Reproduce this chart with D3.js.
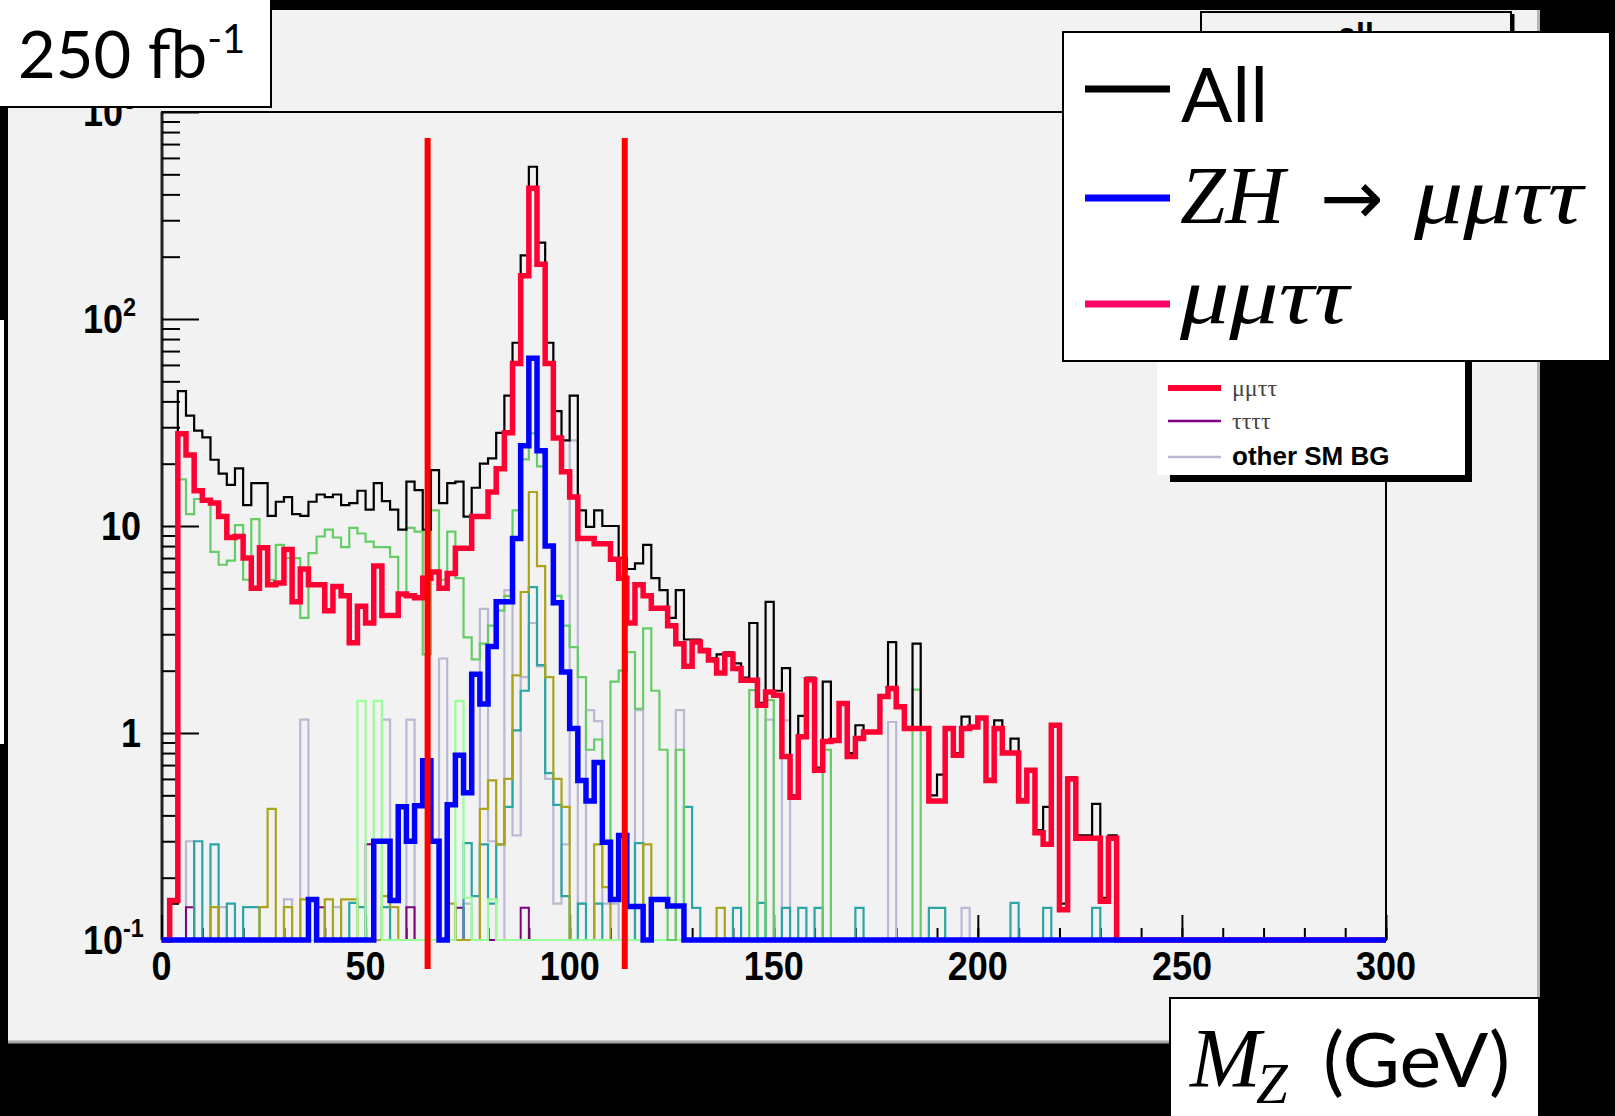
<!DOCTYPE html>
<html lang="en">
<head>
<meta charset="UTF-8"/>
<title>M_Z distribution, 250 fb-1</title>
<script src="https://d3js.org/d3.v7.min.js"></script>
<style>
  body { margin: 0; background: #000; }
  svg { display: block; }
  .tick-label { font-family: "Liberation Sans", Arial, sans-serif; font-weight: bold; font-size: 40px; fill: #000; }
  .big { font-family: Lato, "Open Sans", sans-serif; fill: #000; }
  .math { font-family: "Liberation Serif", "DejaVu Serif", serif; font-style: italic; fill: #000; }
</style>
</head>
<body>
<svg id="chart" width="1615" height="1116"></svg>
<script>
// histogram bins are 2 GeV wide, 0..300 GeV; dense arrays start at the 0-2 GeV bin
const binWidth = 2;
const nBins = 150;

// "All" (black)
const allEvents = [
  0, 0.15, 44.8, 34.1, 28.9, 26.8, 20.9, 17.9, 15.8, 19.0,
  12.6, 16.1, 16.1, 11.2, 13.1, 13.8, 11.4, 11.2, 13.1, 14.2,
  13.8, 14.2, 12.6, 12.9, 14.8, 12.0, 16.1, 13.2, 12.0, 9.6,
  16.4, 14.9, 9.6, 18.6, 12.9, 16.1, 16.4, 11.1, 15.3, 20.0,
  21.2, 28.2, 42.6, 76.8, 203, 544, 234, 76.8, 35.9, 25.9,
  42.6, 11.9, 9.9, 11.9, 10.0, 10.0, 7.0, 6.2, 6.6, 8.1,
  5.6, 4.9, 3.6, 4.9, 2.83, 2.83, 2.55, 2.3, 2.4, 2.45,
  2.17, 1.85, 3.4, 1.4, 4.3, 1.6, 2.06, 0.5, 1.21, 1.85,
  0.68, 1.77, 0.93, 1.4, 0.8, 1.09, 1.02, 1.02, 1.52, 2.75,
  1.36, 1.06, 2.7, 1.06, 0.5, 0.63, 1.06, 0.8, 1.2, 1.07,
  1.19, 0.6, 1.15, 0.81, 0.94, 0.48, 0.67, 0.34, 0.44, 1.1,
  0.15, 0.61, 0.32, 0.32, 0.455, 0.16, 0.32
];

// mumutautau (thick red)
const mumutautau = [
  0, 0.155, 27.9, 22.0, 14.8, 13.3, 12.9, 11.1, 8.8, 8.9,
  7.0, 5.0, 7.85, 5.2, 5.3, 7.7, 4.3, 6.2, 5.2, 5.2,
  3.9, 5.1, 4.6, 2.73, 4.1, 3.4, 6.4, 3.7, 3.7, 4.7,
  4.6, 4.5, 5.6, 6.0, 5.0, 5.9, 7.8, 7.8, 11.1, 11.1,
  14.6, 18.9, 28.2, 61, 162, 428, 184, 61, 26.6, 18.3,
  13.8, 8.7, 8.7, 8.2, 8.2, 6.9, 5.6, 3.4, 5.2, 4.6,
  4.0, 4.0, 3.3, 2.7, 2.1, 2.75, 2.5, 2.25, 1.95, 2.4,
  2.05, 1.8, 1.8, 1.36, 1.58, 1.52, 0.77, 0.49, 0.96, 1.81,
  0.66, 0.91, 0.92, 1.39, 0.77, 0.94, 1.01, 1.01, 1.5, 1.64,
  1.34, 1.05, 1.05, 1.05, 0.47, 0.47, 1.05, 0.78, 1.05, 1.07,
  1.18, 0.59, 1.05, 0.8, 0.8, 0.47, 0.66, 0.33, 0.29, 1.09,
  0.14, 0.6, 0.31, 0.31, 0.31, 0.154, 0.31
];

// ZH -> mumutautau signal (thick blue)
const zhSignal = [
  0, 0, 0, 0, 0, 0, 0, 0, 0, 0,
  0, 0, 0, 0, 0, 0, 0, 0, 0.157, 0,
  0, 0, 0, 0, 0, 0, 0.30, 0.30, 0.155, 0.44,
  0.30, 0.445, 0.735, 0.30, 0, 0.45, 0.78, 0.515, 1.92, 1.38,
  2.62, 4.3, 4.3, 8.7, 24.4, 64.7, 23.1, 8.0, 4.26, 1.97,
  1.05, 0.59, 0.47, 0.72, 0.297, 0.157, 0.32, 0.145, 0.145, 0,
  0.157, 0.157, 0.146, 0.146
];

// green background
const greenBG = [
  0, 0.15, 16.8, 11.4, 13.5, 13.5, 7.5, 6.5, 6.8, 10.1,
  5.5, 10.8, 8.0, 5.5, 8.1, 7.0, 7.0, 3.6, 7.4, 8.9,
  9.6, 8.8, 7.9, 9.8, 9.2, 8.4, 7.9, 7.9, 7.1, 4.7,
  9.8, 9.4, 2.4, 11.9, 5.5, 9.4, 5.6, 2.9, 2.27, 2.7,
  3.3, 3.9, 4.6, 11.9, 21, 28, 19.4, 8, 4.6, 3.3,
  2.6, 1.86, 0.83, 0.93, 0.3, 1.77, 2.0, 2.46, 1.31, 3.2,
  1.6, 0.83, 0, 0.83, 0, 0, 0, 0, 0, 0,
  0, 0, 1.61, 0, 1.44, 0, 0, 0, 0, 0,
  0, 0.83, 0, 0, 0, 0, 0, 0, 0, 0,
  0, 0, 1.62
];

// sparse series: [bin low edge in GeV, value]
const lightGreenBG = [[48, 1.43], [52, 1.43], [72, 1.43], [74, 0.16], [80, 0.157]];
const otherSM = [
  [6, 0.30], [14, 0.144], [30, 0.157], [34, 1.16], [42, 0.144], [54, 1.16], [60, 1.16],
  [68, 2.29], [74, 0.15], [78, 3.98], [80, 0.3], [84, 4.9], [86, 0.32], [88, 1.86],
  [90, 3.4], [92, 2.1], [94, 0.6], [96, 0.15], [98, 0.29], [100, 25.9], [102, 0.15],
  [104, 1.29], [106, 1.14], [108, 0.15], [110, 0.15], [116, 1.29], [126, 1.29],
  [148, 1.16], [152, 1.15], [178, 1.13], [196, 0.143]
];
const tealBG = [
  [8, 0.30], [12, 0.29], [16, 0.15], [20, 0.144], [22, 0.144], [46, 0.151], [48, 0.144],
  [54, 0.144], [74, 0.294], [76, 0.163], [78, 0.29], [80, 0.15], [82, 0.29], [84, 0.44],
  [86, 1.03], [88, 1.6], [90, 5.07], [92, 2.13], [94, 0.64], [96, 0.45], [98, 0.163],
  [102, 0.15], [106, 0.15], [116, 0.294], [128, 0.44], [130, 0.143], [140, 0.143],
  [146, 0.151], [152, 0.143], [156, 0.143], [160, 0.143], [170, 0.143], [188, 0.143],
  [190, 0.143], [208, 0.151], [216, 0.143], [228, 0.143]
];
const oliveBG = [
  [12, 0.144], [24, 0.144], [26, 0.43], [30, 0.144], [34, 0.157], [40, 0.157], [44, 0.157],
  [46, 0.157], [54, 0.163], [56, 0.144], [70, 0.15], [78, 0.43], [80, 0.59], [82, 0.29],
  [84, 0.6], [86, 1.9], [88, 4.8], [90, 14.6], [92, 6.4], [94, 1.86], [96, 0.6], [98, 0.44],
  [106, 0.29], [108, 0.18], [118, 0.29], [136, 0.143]
];
const tautautautau = [[6, 0.144], [38, 0.144], [50, 0.29], [60, 0.144], [72, 0.143], [88, 0.143]];

// mass window cuts (GeV)
const cutValues = [65.2, 113.5];

// axis ticks
const xMajorTicks = [0, 50, 100, 150, 200, 250, 300];
const xMinorTicks = d3.range(0, 301, 10);
const yMajorTicks = [0.1, 1, 10, 100, 1000];
const yTickText = [['10', '-1'], ['1', ''], ['10', ''], ['10', '2'], ['10', '3']];

const svg = d3.select('#chart');
const W = 1615, H = 1116;

svg.append('rect').attr('width', W).attr('height', H).attr('fill', '#000');
// ROOT canvas
svg.append('rect').attr('x', 8).attr('y', 10).attr('width', 1532).attr('height', 1033).attr('fill', '#f2f2f2');
svg.append('line').attr('x1', 8).attr('x2', 1540).attr('y1', 1042).attr('y2', 1042).attr('stroke', '#a8a8a8').attr('stroke-width', 3);
svg.append('line').attr('x1', 1538.5).attr('x2', 1538.5).attr('y1', 10).attr('y2', 1043).attr('stroke', '#b4b4b4').attr('stroke-width', 3);
svg.append('rect').attr('x', 0).attr('y', 320).attr('width', 4).attr('height', 424).attr('fill', '#fff');

const x = d3.scaleLinear().domain([0, 300]).range([161.5, 1386]);
const y = d3.scaleLog().domain([0.1, 1000]).range([940, 112]);

// frame
svg.append('rect').attr('x', 162).attr('y', 112).attr('width', 1224).attr('height', 828)
  .attr('fill', 'none').attr('stroke', '#000').attr('stroke-width', 2);
svg.append('line').attr('x1', 162).attr('x2', 162).attr('y1', 112).attr('y2', 940)
  .attr('stroke', '#222').attr('stroke-width', 3);

// ticks
function tickAxis(axis, tr) {
  const g = svg.append('g').attr('transform', tr).call(axis);
  g.select('.domain').remove();
  g.selectAll('line').attr('stroke', '#000').attr('stroke-width', 2);
  g.selectAll('text').remove();
  return g;
}
const yMinor = [];
[0.1, 1, 10, 100].forEach(d => d3.range(2, 10).forEach(m => yMinor.push(m * d)));
tickAxis(d3.axisRight(y).tickValues(yMajorTicks).tickSize(37), 'translate(162,0)');
tickAxis(d3.axisRight(y).tickValues(yMinor).tickSize(18), 'translate(162,0)');
tickAxis(d3.axisTop(x).tickValues(xMajorTicks).tickSize(25), 'translate(0,940)');
tickAxis(d3.axisTop(x).tickValues(xMinorTicks).tickSize(12), 'translate(0,940)');

// tick labels: powers of ten start at a fixed left edge, plain numbers are right aligned
yMajorTicks.forEach((v, i) => {
  const [base, sup] = yTickText[i];
  const t = svg.append('text').attr('class', 'tick-label')
    .attr('transform', `translate(${sup ? 83 : 141},${y(v) + 14}) scale(0.9,1)`)
    .attr('text-anchor', sup ? 'start' : 'end');
  t.append('tspan').text(base);
  if (sup) t.append('tspan').attr('dy', -17).attr('font-size', '26px').text(sup);
});
xMajorTicks.forEach(v => {
  svg.append('text').attr('class', 'tick-label')
    .attr('transform', `translate(${x(v)},980) scale(0.9,1)`)
    .attr('text-anchor', 'middle').text(v);
});

// histograms
function dense(values) {
  const a = new Array(nBins).fill(0);
  values.forEach((v, i) => { a[i] = v; });
  return a;
}
function fromPairs(pairs) {
  const a = new Array(nBins).fill(0);
  pairs.forEach(([m, v]) => { a[Math.round(m / binWidth)] = v; });
  return a;
}
const step = d3.line()
  .x(d => x(d[0]))
  .y(d => y(Math.max(d[1], 0.1)))
  .curve(d3.curveStepAfter);
function histPoints(a) {
  const pts = a.map((v, i) => [i * binWidth, v]);
  pts.push([300, a[a.length - 1]]);
  return pts;
}

const series = [
  { data: fromPairs(otherSM), color: '#b9b9d3', w: 2.2 },
  { data: fromPairs(tautautautau), color: '#800080', w: 2 },
  { data: fromPairs(tealBG), color: '#2ba6a6', w: 2.2 },
  { data: fromPairs(oliveBG), color: '#aaa41c', w: 2.2 },
  { data: fromPairs(lightGreenBG), color: '#99ff99', w: 2.2 },
  { data: dense(greenBG), color: '#66cc66', w: 2.2 },
  { data: dense(allEvents), color: '#000', w: 2.2 },
  { data: dense(mumutautau), color: '#ff0033', w: 5.5 },
  { data: dense(zhSignal), color: '#0000ff', w: 5.5 }
];
svg.append('g').selectAll('path').data(series).join('path')
  .attr('d', s => step(histPoints(s.data)))
  .attr('fill', 'none')
  .attr('stroke', s => s.color)
  .attr('stroke-width', s => s.w);

// cut lines
svg.append('g').selectAll('line').data(cutValues).join('line')
  .attr('x1', d => x(d)).attr('x2', d => x(d))
  .attr('y1', 138).attr('y2', 969)
  .attr('stroke', '#ff0000').attr('stroke-width', 6);

// ROOT title box (mostly hidden)
svg.append('rect').attr('x', 1201).attr('y', 12).attr('width', 310).attr('height', 40)
  .attr('fill', '#f2f2f2').attr('stroke', '#000').attr('stroke-width', 2);
svg.append('line').attr('x1', 1513).attr('x2', 1513).attr('y1', 14).attr('y2', 40)
  .attr('stroke', '#000').attr('stroke-width', 3);
svg.append('text').attr('x', 1356).attr('y', 45).attr('text-anchor', 'middle')
  .style('font', 'bold 32px "Liberation Sans", Arial, sans-serif').text('all');

// ROOT legend (partly hidden)
svg.append('rect').attr('x', 1170).attr('y', 350).attr('width', 302).attr('height', 132).attr('fill', '#000');
svg.append('rect').attr('x', 1157).attr('y', 340).attr('width', 308).attr('height', 135).attr('fill', '#fff');
const rootLegend = [
  { y: 388, color: '#ff0033', w: 6, label: 'μμττ', font: '24px "Liberation Serif", serif', fill: '#444' },
  { y: 421, color: '#800080', w: 2.5, label: 'ττττ', font: '24px "Liberation Serif", serif', fill: '#444' },
  { y: 457, color: '#b9b9d3', w: 2.5, label: 'other SM BG', font: 'bold 26px "Liberation Sans", Arial, sans-serif', fill: '#000' }
];
rootLegend.forEach(e => {
  svg.append('line').attr('x1', 1168).attr('x2', 1221).attr('y1', e.y).attr('y2', e.y)
    .attr('stroke', e.color).attr('stroke-width', e.w);
  svg.append('text').attr('x', 1232).attr('y', e.y + 8).style('font', e.font).attr('fill', e.fill).text(e.label);
});

// big legend
svg.append('rect').attr('x', 1063).attr('y', 32).attr('width', 547).attr('height', 329)
  .attr('fill', '#fff').attr('stroke', '#000').attr('stroke-width', 2);
const bigLegend = [{ y: 89, color: '#000' }, { y: 198, color: '#0000ff' }, { y: 304, color: '#ff0066' }];
bigLegend.forEach(e => {
  svg.append('line').attr('x1', 1085).attr('x2', 1170).attr('y1', e.y).attr('y2', e.y)
    .attr('stroke', e.color).attr('stroke-width', 7);
});
svg.append('text').attr('class', 'big').attr('x', 1181).attr('y', 122).attr('font-size', 76).text('All');
svg.append('text').attr('class', 'math').attr('x', 1180).attr('y', 223).attr('font-size', 82).text('ZH');
svg.append('text').attr('x', 1320).attr('y', 224).attr('font-size', 76)
  .style('font-family', '"DejaVu Sans", sans-serif').text('→');
svg.append('text').attr('class', 'math').attr('x', 1414).attr('y', 223).attr('font-size', 80)
  .attr('textLength', 169).attr('lengthAdjust', 'spacingAndGlyphs').text('μμττ');
svg.append('text').attr('class', 'math').attr('x', 1180).attr('y', 323).attr('font-size', 80)
  .attr('textLength', 169).attr('lengthAdjust', 'spacingAndGlyphs').text('μμττ');

// luminosity box
svg.append('rect').attr('x', -2).attr('y', -2).attr('width', 273).attr('height', 109)
  .attr('fill', '#fff').attr('stroke', '#000').attr('stroke-width', 2);
const lumi = svg.append('text').attr('class', 'big').attr('x', 18).attr('y', 78).attr('font-size', 65);
lumi.append('tspan').text('250 fb');
lumi.append('tspan').attr('dy', -25).attr('font-size', 40).text('-1');

// axis title box
svg.append('rect').attr('x', 1170).attr('y', 998).attr('width', 369).attr('height', 130)
  .attr('fill', '#fff').attr('stroke', '#000').attr('stroke-width', 2);
svg.append('text').attr('class', 'math').attr('x', 1190).attr('y', 1087).attr('font-size', 85).text('M');
svg.append('text').attr('class', 'math').attr('x', 1256).attr('y', 1103).attr('font-size', 57).text('Z');
svg.append('text').attr('class', 'big').attr('x', 1323).attr('y', 1087).attr('font-size', 76)
  .attr('textLength', 187).attr('lengthAdjust', 'spacingAndGlyphs').text('(GeV)');
</script>
</body>
</html>
